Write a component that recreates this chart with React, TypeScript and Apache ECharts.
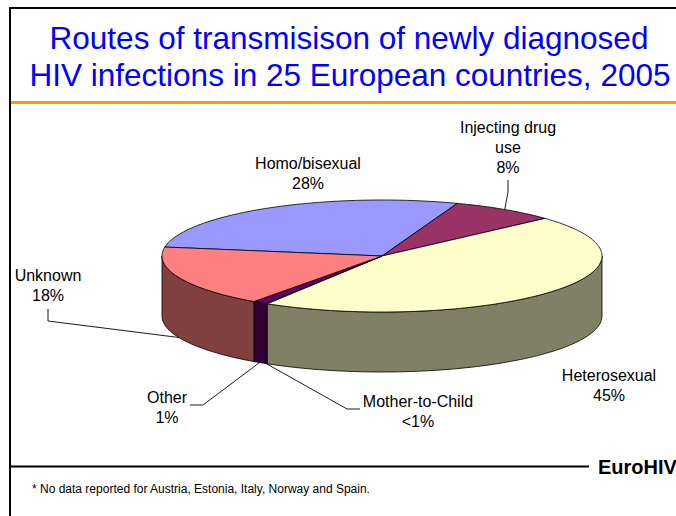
import React, { useEffect, useRef } from 'react';
import * as echarts from 'echarts';

// ---------- data ----------
const categories = ['Homo/bisexual', 'Injecting drug use', 'Heterosexual', 'Mother-to-Child', 'Other', 'Unknown'];
const labelNames = [['Homo/bisexual'], ['Injecting drug', 'use'], ['Heterosexual'], ['Mother-to-Child'], ['Other'], ['Unknown']];
const values = [27.9, 7.7, 45.3, 0.15, 1.0, 17.6];
const titleLines = ['Routes of transmisison of newly diagnosed', 'HIV infections in 25 European countries, 2005'];
const footnote = '* No data reported for Austria, Estonia, Italy, Norway and Spain.';
const sourceText = 'EuroHIV';

// ---------- styles / layout ----------
const topColors = ['#9999FF', '#993366', '#FFFFCC', '#CCFFFF', '#660066', '#FF8080'];
const sideColors = ['#4D4D80', '#4D1A33', '#808066', '#330033', '#330033', '#804040'];
const FONT = '"Liberation Sans", Arial, Helvetica, sans-serif';
const PIE = { cx: 382, cy: 256, rx: 220, ry: 56, depth: 60, boundaryAngle: 70 };
// label position (center of first line), leader elbow points, anchor on pie
const labelLayout: { x: number; y: number; leader: number[][] | null; anchor: 'top' | 'bottom' }[] = [
  { x: 308, y: 163, leader: null, anchor: 'top' },
  { x: 508, y: 127, leader: [[508, 180], [508, 192]], anchor: 'top' },
  { x: 609, y: 375, leader: null, anchor: 'bottom' },
  { x: 418, y: 401, leader: [[360, 409], [347, 409]], anchor: 'bottom' },
  { x: 167, y: 397, leader: [[190, 405], [203, 405]], anchor: 'bottom' },
  { x: 48, y: 275, leader: [[48, 309], [48, 321]], anchor: 'bottom' },
];

const total = values.reduce((a, b) => a + b, 0);
const angles: number[][] = [];
{
  let cur = PIE.boundaryAngle + (values[0] / total) * 360;
  values.forEach((v) => {
    const sweep = (v / total) * 360;
    angles.push([cur, cur - sweep]);
    cur -= sweep;
  });
}

function pt(t: number, dz = 0): number[] {
  const r = (t * Math.PI) / 180;
  return [PIE.cx + PIE.rx * Math.cos(r), PIE.cy - PIE.ry * Math.sin(r) + dz];
}
function arcPts(a: number, b: number, dz: number): number[][] {
  const n = Math.max(2, Math.ceil(Math.abs(a - b) / 1.5));
  const pts: number[][] = [];
  for (let i = 0; i <= n; i++) pts.push(pt(a + ((b - a) * i) / n, dz));
  return pts;
}
function pctText(v: number): string {
  const p = (v / total) * 100;
  return p < 1 ? '<1%' : Math.round(p) + '%';
}

export default function App() {
  const ref = useRef<HTMLDivElement>(null);
  useEffect(() => {
    if (!ref.current) return;
    const chart = echarts.init(ref.current, undefined, { renderer: 'svg' });
    const renderItem = (params: any, api: any) => {
      const i = params.dataIndex;
      const [s, e] = angles[i];
      const children: any[] = [];
      // front walls
      for (let k = -1; k <= 1; k++) {
        const lo = Math.max(e + 360 * k, -180);
        const hi = Math.min(s + 360 * k, 0);
        if (hi > lo) {
          const pts = arcPts(hi, lo, 0).concat(arcPts(lo, hi, PIE.depth));
          children.push({
            type: 'polygon',
            shape: { points: pts },
            style: { fill: sideColors[i], stroke: '#000', lineWidth: 0.8 },
          });
        }
      }
      // top face
      const top = [[PIE.cx, PIE.cy]].concat(arcPts(s, e, 0));
      children.push({
        type: 'polygon',
        shape: { points: top },
        style: { fill: topColors[i], stroke: '#000', lineWidth: 0.8 },
      });
      // leader line
      const lay = labelLayout[i];
      if (lay.leader) {
        const mid = (s + e) / 2;
        const anchor = pt(mid, lay.anchor === 'bottom' ? PIE.depth : 0);
        children.push({
          type: 'polyline',
          shape: { points: lay.leader.concat([anchor]) },
          style: { stroke: '#000', lineWidth: 0.9, fill: null },
        });
      }
      // label
      const txt = labelNames[i].concat([pctText(api.value(0))]).join('\n');
      children.push({
        type: 'text',
        style: {
          text: txt,
          x: lay.x,
          y: lay.y - 10,
          align: 'center',
          verticalAlign: 'top',
          font: '16px ' + FONT,
          lineHeight: 20,
          fill: '#000',
        },
      });
      return { type: 'group', children };
    };

    chart.setOption({
      animation: false,
      backgroundColor: '#fff',
      series: [
        {
          type: 'custom',
          coordinateSystem: 'none',
          renderItem,
          data: values.map((v, i) => ({ name: categories[i], value: [v] })),
          silent: true,
        },
      ],
      graphic: [
        { type: 'line', shape: { x1: 10, y1: 8, x2: 676, y2: 8 }, style: { stroke: '#000', lineWidth: 2 } },
        { type: 'line', shape: { x1: 10, y1: 7, x2: 10, y2: 516 }, style: { stroke: '#000', lineWidth: 2 } },
        { type: 'line', shape: { x1: 11, y1: 102.5, x2: 676, y2: 102.5 }, style: { stroke: '#FF9900', lineWidth: 3 } },
        { type: 'line', shape: { x1: 11, y1: 466.5, x2: 589, y2: 466.5 }, style: { stroke: '#000', lineWidth: 2 } },
        {
          type: 'text',
          style: { text: titleLines[0], x: 349, y: 38, align: 'center', verticalAlign: 'middle', font: '31.5px ' + FONT, fill: '#0000FF' },
        },
        {
          type: 'text',
          style: { text: titleLines[1], x: 350, y: 75, align: 'center', verticalAlign: 'middle', font: '31.5px ' + FONT, fill: '#0000FF' },
        },
        {
          type: 'text',
          style: { text: sourceText, x: 598, y: 467, align: 'left', verticalAlign: 'middle', font: 'bold 20px ' + FONT, fill: '#000' },
        },
        {
          type: 'text',
          style: { text: footnote, x: 32, y: 489, align: 'left', verticalAlign: 'middle', font: '12px ' + FONT, fill: '#000' },
        },
      ],
    });
    return () => chart.dispose();
  }, []);
  return <div ref={ref} style={{ position: 'fixed', left: 0, top: 0, width: 676, height: 516, background: '#fff' }} />;
}
